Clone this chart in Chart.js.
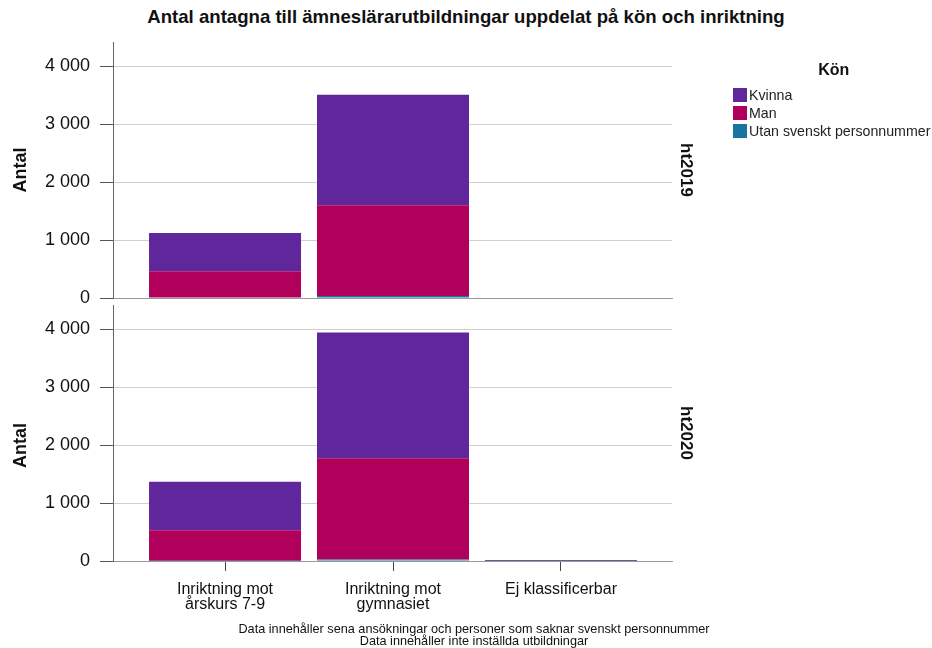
<!DOCTYPE html>
<html lang="sv">

<head>
    <meta charset="UTF-8">
    <title>Antal antagna till ämneslärarutbildningar</title>
    <style>
        body {
            margin: 0;
            padding: 0;
            background: #ffffff;
            font-family: 'Liberation Sans', Arial, sans-serif;
        }

        .page {
            position: relative;
            width: 932px;
            height: 648px;
            overflow: hidden;
        }

        .title {
            position: absolute;
            left: 0;
            top: 6px;
            width: 932px;
            text-align: center;
            font-weight: bold;
            font-size: 18.6px;
            color: #111;
        }

        .panel {
            position: absolute;
            left: 0;
            width: 932px;
        }

        #panelTop {
            top: 30px;
            height: 275px;
        }

        #panelBottom {
            top: 300px;
            height: 348px;
        }

        .legend {
            position: absolute;
            left: 733px;
            top: 61px;
            font-size: 14.2px;
            color: #222;
        }

        .legend h3 {
            margin: 0 0 7px 0;
            font-size: 16px;
            text-align: center;
            padding-left: 4px;
            color: #111;
        }

        .legend .item {
            display: flex;
            align-items: center;
            height: 18px;
            white-space: nowrap;
        }

        .legend .swatch {
            width: 14px;
            height: 14px;
            margin-right: 2px;
        }

        .notes {
            position: absolute;
            left: 0;
            top: 623px;
            width: 948px;
            text-align: center;
            font-size: 12.7px;
            line-height: 12px;
            color: #111;
        }
    </style>
    <script src="https://cdn.jsdelivr.net/npm/chart.js"></script>
</head>

<body>
    <div class="page">
        <div class="title">Antal antagna till ämneslärarutbildningar uppdelat på kön och inriktning</div>
        <div class="panel" id="panelTop"><canvas id="chartTop"></canvas></div>
        <div class="panel" id="panelBottom"><canvas id="chartBottom"></canvas></div>
        <div class="legend" id="legend"></div>
        <div class="notes">
            Data innehåller sena ansökningar och personer som saknar svenskt personnummer<br>
            Data innehåller inte inställda utbildningar
        </div>
    </div>
    <script>
        // categories along the x axis (index = position on the linear x scale)
        const categories = [
            ['Inriktning mot', 'årskurs 7-9'],
            ['Inriktning mot', 'gymnasiet'],
            'Ej klassificerbar'
        ];
        const yTicks = [0, 1000, 2000, 3000, 4000];

        const seriesNames = ['Utan svenskt personnummer', 'Man', 'Kvinna'];
        const seriesColors = ['#1b73a0', '#b0005b', '#60279d'];
        const legendOrder = ['Kvinna', 'Man', 'Utan svenskt personnummer'];

        // ht2019
        const utan2019 = [0, 35, 0];
        const man2019 = [460, 1565, 0];
        const kvinna2019 = [662, 1910, 0];

        // ht2020
        const utan2020 = [4, 28, 2];
        const man2020 = [528, 1745, 6];
        const kvinna2020 = [838, 2172, 10];

        const FONT = "'Liberation Sans', Arial, sans-serif";

        function toPoints(values) {
            return values.map((v, i) => ({ x: i, y: v }));
        }

        function buildDatasets(series) {
            return series.map((values, i) => ({
                label: seriesNames[i],
                data: toPoints(values),
                backgroundColor: seriesColors[i],
                borderWidth: 0,
                barPercentage: 0.905,
                categoryPercentage: 1.0
            }));
        }

        function makePanel(canvasId, series, panelLabel, yTitle, showXLabels, padding) {
            const ctx = document.getElementById(canvasId).getContext('2d');
            return new Chart(ctx, {
                type: 'bar',
                data: { datasets: buildDatasets(series) },
                options: {
                    responsive: true,
                    maintainAspectRatio: false,
                    animation: false,
                    layout: { padding: padding },
                    plugins: {
                        legend: { display: false },
                        tooltip: { enabled: false }
                    },
                    scales: {
                        x: {
                            type: 'linear',
                            stacked: true,
                            offset: false,
                            min: -0.667,
                            max: 2.661,
                            afterBuildTicks: scale => {
                                scale.ticks = categories.map((c, i) => ({ value: i }));
                            },
                            afterFit: scale => {
                                scale.height = showXLabels ? 87 : 0;
                                scale.paddingLeft = 0;
                                scale.paddingRight = 0;
                            },
                            grid: {
                                display: showXLabels,
                                offset: false,
                                drawOnChartArea: false,
                                drawTicks: true,
                                tickLength: 10,
                                tickColor: '#444'
                            },
                            border: { color: '#999', width: 1 },
                            ticks: {
                                display: showXLabels,
                                autoSkip: false,
                                maxRotation: 0,
                                padding: 11,
                                color: '#111',
                                font: { family: FONT, size: 16, lineHeight: 0.96 },
                                callback: value => categories[value]
                            }
                        },
                        y: {
                            stacked: true,
                            min: 0,
                            max: 4420,
                            afterBuildTicks: scale => {
                                scale.ticks = yTicks.map(v => ({ value: v }));
                            },
                            afterFit: scale => {
                                scale.width = 113;
                                scale.paddingTop = 0;
                                scale.paddingBottom = 0;
                            },
                            grid: {
                                color: '#cfcfcf',
                                tickColor: '#555',
                                tickLength: 13
                            },
                            border: { color: '#666', width: 1 },
                            ticks: {
                                padding: 10,
                                color: '#111',
                                font: { family: FONT, size: 18 },
                                callback: value => value === 0 ? '0' : (value / 1000) + ' 000'
                            },
                            title: {
                                display: true,
                                text: yTitle,
                                color: '#111',
                                padding: { top: 10, bottom: 0 },
                                font: { family: FONT, size: 18, weight: 'bold' }
                            }
                        },
                        facet: {
                            type: 'linear',
                            position: 'right',
                            afterFit: scale => {
                                scale.width = 24;
                                scale.paddingTop = 0;
                                scale.paddingBottom = 0;
                            },
                            grid: { display: false },
                            border: { display: false },
                            ticks: { display: false },
                            title: {
                                display: true,
                                text: panelLabel,
                                color: '#111',
                                padding: 0,
                                font: { family: FONT, size: 17, weight: 'bold' }
                            }
                        }
                    }
                }
            });
        }

        makePanel('chartTop', [utan2019, man2019, kvinna2019], 'ht2019', 'Antal', false,
            { top: 12, bottom: 7, left: 0, right: 236 });
        // trailing spaces nudge the lower axis title a little further down
        makePanel('chartBottom', [utan2020, man2020, kvinna2020], 'ht2020', 'Antal     ', true,
            { top: 5, bottom: 0, left: 0, right: 236 });

        // legend block on the right, listed from the top of the stack down
        const legend = document.getElementById('legend');
        legend.innerHTML = '<h3>Kön</h3>' + legendOrder.map(name => {
            const color = seriesColors[seriesNames.indexOf(name)];
            return `<div class="item"><span class="swatch" style="background:${color}"></span>${name}</div>`;
        }).join('');
    </script>
</body>

</html>
